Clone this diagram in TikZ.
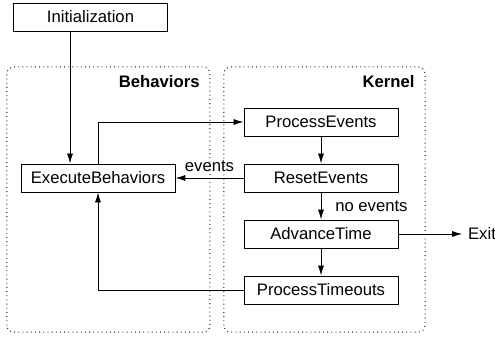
\documentclass[tikz,border=0pt]{standalone}
\usepackage{fontspec}
\setmainfont{Liberation Sans}
\usetikzlibrary{positioning, arrows.meta}

\begin{document}
\begin{tikzpicture}[>={Latex[length=6pt,width=3.6pt]},node distance=33.6pt,on grid,
   block/.style={draw,line width=0.5pt,minimum width=92.4pt,minimum height=16.8pt,inner sep=0pt},
   group/.style={draw,dotted,line width=0.6pt,rounded corners=4pt},
   every path/.style={line width=0.5pt}]

   \useasboundingbox (-192.6pt,-96.6pt) rectangle (104.4pt,106.8pt);

   % the two groups
   \draw[group] (-188.4pt,-92.4pt) rectangle (-66.6pt,66.6pt);
   \draw[group] (-58.2pt,-92.4pt) rectangle (62.4pt,66.6pt);
   \node[anchor=east,font=\bfseries] (behaviors) at (-69.3pt,57.6pt) {Behaviors};
   \node[anchor=east,font=\bfseries] (kernel) at (59.7pt,57.6pt) {Kernel};

   \node[block] (reset)                                         {ResetEvents};
   \node[block] (process)  [above=of reset]                     {ProcessEvents};
   \node[block] (advance)  [below=of reset]                     {AdvanceTime};
   \node[block] (timeouts) [below=of advance]                   {ProcessTimeouts};
   \node[block] (execute)  [left=133.8pt of reset]              {ExecuteBehaviors};
   \node[block] (init)     [above left=96.6pt and 4.5pt of execute] {Initialization};
   \node (exit)            [right=96.6pt of advance]            {Exit};

   \draw[->] (process) -- (reset);
   \draw[->] (reset) -- node[right=5pt] {no events} (advance);
   \draw[->] (advance) -- (timeouts);
   \draw[->] (advance) -- (exit);
   \draw[->] (reset) -- node[above] {events} (execute);
   \draw[->] (execute) |- (process);
   \draw[->] (timeouts) -| (execute);
   \draw[->] ([xshift=-12.3pt]init.south) -- ([xshift=-12.3pt]init.south |- execute.north);

\end{tikzpicture}
\end{document}
